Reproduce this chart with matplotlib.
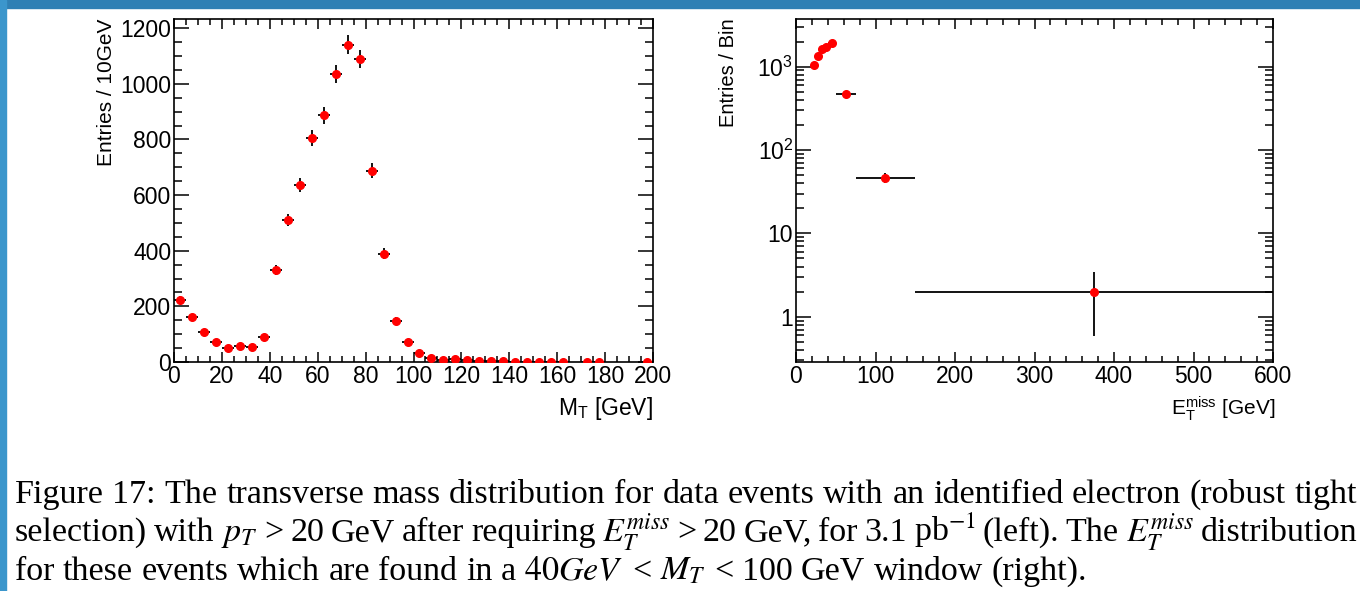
import numpy as np
import matplotlib
matplotlib.use("Agg")
import matplotlib.pyplot as plt
from matplotlib.patches import Rectangle
from matplotlib.ticker import MultipleLocator, FixedLocator, FixedFormatter, NullFormatter

# left panel: transverse mass, 5 GeV bins from 0 to 200
mt_edges = np.arange(0, 205, 5)
mt_counts = [224, 160, 107, 73, 49, 58, 55, 91, 330, 510,
             637, 806, 887, 1035, 1141, 1089, 688, 390, 149, 73,
             34, 15, 8, 12, 6, 4, 2, 3, 1, 1,
             1, 1, 1, 0, 1, 1, 0, 0, 0, 1]

# right panel: missing E_T, variable bins
met_edges = [20, 25, 30, 35, 40, 50, 75, 150, 600]
met_counts = [1050, 1355, 1615, 1707, 1906, 471, 46.6, 2]

mt_ticks = [0, 20, 40, 60, 80, 100, 120, 140, 160, 180, 200]
met_ticks = [0, 100, 200, 300, 400, 500, 600]
log_ticks = [1, 10, 100, 1000]
log_labels = ['1', '10', r'$\mathregular{10^{2}}$', r'$\mathregular{10^{3}}$']

caption = [
    "Figure 17: The transverse mass distribution for data events with an identified electron (robust tight",
    r"selection) with $p_T$ > 20 GeV after requiring $E_T^{miss}$ > 20 GeV, for 3.1 pb$^{-1}$ (left). The $E_T^{miss}$ distribution",
    r"for these events which are found in a $40GeV$ < $M_T$ < 100 GeV window (right).",
]

W, H, DPI = 1360, 591, 100
sans = ['Liberation Sans Narrow', 'Liberation Sans']
plt.rcParams['mathtext.fontset'] = 'stix'
plt.rcParams['font.family'] = sans

fig = plt.figure(figsize=(W / DPI, H / DPI), dpi=DPI)
fig.patch.set_facecolor('white')

# blue slide frame
fig.patches.append(Rectangle((0, 1 - 8 / H), 1, 8 / H, transform=fig.transFigure,
                             color='#2f80b4', zorder=0))
fig.patches.append(Rectangle((0, 0), 6 / W, 1, transform=fig.transFigure,
                             color='#3b96cc', zorder=0))


def px(x0, y0, x1, y1):
    # pixel box (top-left origin) -> figure fraction rect
    return [x0 / W, 1 - y1 / H, (x1 - x0) / W, (y1 - y0) / H]


def style(ax, ymajor_len=11, yminor_len=6):
    for s in ax.spines.values():
        s.set_linewidth(1.2)
    ax.tick_params(which='both', direction='in', top=True, right=True,
                   width=1.1, labelsize=16.5, pad=2)
    ax.tick_params(axis='x', which='major', length=7.5)
    ax.tick_params(axis='x', which='minor', length=4)
    ax.tick_params(axis='y', which='major', length=ymajor_len)
    ax.tick_params(axis='y', which='minor', length=yminor_len)


def draw_hist(ax, edges, counts):
    edges = np.asarray(edges, float)
    counts = np.asarray(counts, float)
    c = 0.5 * (edges[1:] + edges[:-1])
    hw = 0.5 * (edges[1:] - edges[:-1])
    m = counts > 0
    ax.errorbar(c[m], counts[m], xerr=hw[m], yerr=np.sqrt(counts[m]),
                fmt='o', color='red', ms=5.5, mec='red', ecolor='black',
                elinewidth=1.3, capsize=0, zorder=3)


# ---- left: M_T ----
ax1 = fig.add_axes(px(174, 19, 653, 362))
draw_hist(ax1, mt_edges, mt_counts)
ax1.set_xlim(0, 200)
ax1.set_ylim(0, 1233)
ax1.xaxis.set_major_locator(FixedLocator(mt_ticks))
ax1.xaxis.set_minor_locator(MultipleLocator(5))
ax1.yaxis.set_major_locator(MultipleLocator(200))
ax1.yaxis.set_minor_locator(MultipleLocator(50))
style(ax1, 11, 6)
fig.text(107 / W, 1 - 19 / H, 'Entries / 10GeV', rotation=90, ha='center', va='top',
         fontsize=15)
fig.text(653 / W, 1 - 422 / H, r'$\mathregular{M_T}$ [GeV]', ha='right', va='bottom',
         fontsize=16.5)

# ---- right: E_T miss ----
ax2 = fig.add_axes(px(796, 19, 1273, 362))
draw_hist(ax2, met_edges, met_counts)
ax2.set_yscale('log')
ax2.set_xlim(0, 600)
ax2.set_ylim(0.286, 3730)
ax2.xaxis.set_major_locator(FixedLocator(met_ticks))
ax2.xaxis.set_minor_locator(MultipleLocator(20))
ax2.yaxis.set_major_locator(FixedLocator(log_ticks))
ax2.yaxis.set_major_formatter(FixedFormatter(log_labels))
minor = [m * 10.0 ** e for e in range(-1, 4) for m in range(2, 10)]
ax2.yaxis.set_minor_locator(FixedLocator(minor))
ax2.yaxis.set_minor_formatter(NullFormatter())
style(ax2, 11, 6)
fig.text(728 / W, 1 - 18 / H, 'Entries / Bin', rotation=90, ha='center', va='top',
         fontsize=14.5)
fig.text(1275 / W, 1 - 423 / H, r'$\mathregular{E_T^{miss}}$ [GeV]', ha='right', va='bottom',
         fontsize=15)

# ---- caption, justified like the paper ----
serif = 'Liberation Serif'
renderer = fig.canvas.get_renderer()
x_left, x_right = 15, 1357
baselines = [503, 541, 580]


def place_line(words, yb, size, justify):
    objs = [fig.text(0, 1 - yb / H, w, fontsize=size, family=serif,
                     va='baseline', ha='left') for w in words]
    widths = [o.get_window_extent(renderer).width for o in objs]
    return objs, widths


# pick the largest size whose first line still fits with ordinary spaces
cap_size = 24.5
while True:
    objs, widths = place_line(caption[0].split(' '), baselines[0], cap_size, True)
    need = sum(widths) + (len(widths) - 1) * cap_size * DPI / 72 * 0.2
    for o in objs:
        o.remove()
    if need <= x_right - x_left or cap_size < 16:
        break
    cap_size -= 0.25

for i, (line, yb) in enumerate(zip(caption, baselines)):
    words = line.split(' ')
    objs, widths = place_line(words, yb, cap_size, i < len(caption) - 1)
    if i < len(caption) - 1:
        gap = (x_right - x_left - sum(widths)) / (len(words) - 1)
    else:
        gap = cap_size * DPI / 72 * 0.25
    x = x_left
    for o, w in zip(objs, widths):
        o.set_x(x / W)
        x += w + gap

fig.savefig('out.png', dpi=DPI, facecolor='white')
